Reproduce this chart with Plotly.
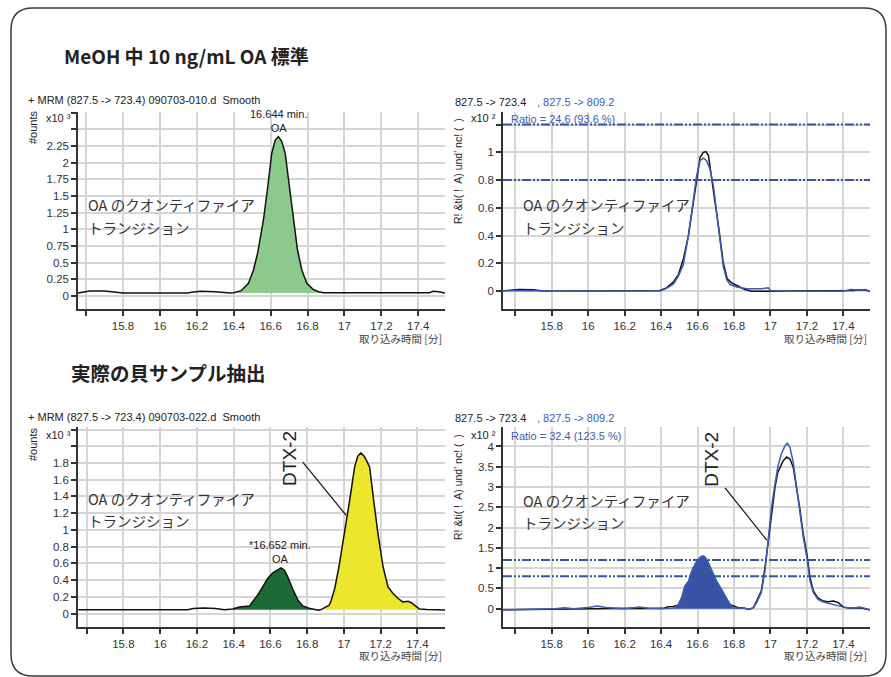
import plotly.graph_objects as go

W, H = 891, 677

# ---------------- data ----------------
# Standard (MeOH 10 ng/mL OA): MRM 827.5 -> 723.4, counts x10^3
std_time = [15.555, 15.58, 15.62, 15.70, 15.75, 15.80, 15.90, 16.00, 16.10, 16.15,
            16.18, 16.22, 16.30, 16.34, 16.38, 16.40, 16.44, 16.48, 16.507, 16.53,
            16.561, 16.585, 16.606, 16.625, 16.642, 16.66, 16.679, 16.70, 16.724, 16.745,
            16.769, 16.796, 16.83, 16.86, 16.886, 16.95, 17.10, 17.30, 17.46, 17.48,
            17.51, 17.545]
std_counts = [0.045, 0.06, 0.075, 0.075, 0.06, 0.045, 0.045, 0.045, 0.045, 0.045,
              0.06, 0.07, 0.065, 0.05, 0.045, 0.05, 0.08, 0.19, 0.39, 0.65,
              1.14, 1.65, 2.14, 2.34, 2.39, 2.32, 2.14, 1.68, 1.14, 0.70,
              0.39, 0.19, 0.10, 0.065, 0.05, 0.05, 0.05, 0.05, 0.05, 0.07,
              0.065, 0.045]
std_oa_window = (16.40, 16.886)
std_fill_base = 0.045

# Standard overlay: quantifier (723.4, black) and qualifier (809.2, blue), x10^2
std_q_time = [15.535, 15.58, 15.62, 15.70, 15.74, 15.80, 16.00, 16.18, 16.22, 16.35,
              16.394, 16.43, 16.467, 16.495, 16.522, 16.55, 16.577, 16.595, 16.614, 16.632,
              16.646, 16.66, 16.677, 16.696, 16.72, 16.741, 16.763, 16.787, 16.824, 16.86,
              16.897, 17.00, 17.20, 17.40, 17.454, 17.49, 17.518, 17.546]
std_q_val = [0.003, 0.008, 0.012, 0.01, 0.003, 0.0, 0.0, 0.0, 0.005, 0.004,
             0.005, 0.024, 0.065, 0.12, 0.23, 0.40, 0.64, 0.82, 0.964, 1.0,
             1.005, 0.976, 0.83, 0.64, 0.42, 0.205, 0.089, 0.06, 0.036, 0.012,
             0.0, 0.0, 0.0, 0.0, 0.005, 0.01, 0.008, 0.0]
std_ql_time = [15.535, 15.60, 15.70, 15.80, 16.00, 16.20, 16.30, 16.40, 16.43, 16.467,
               16.495, 16.522, 16.55, 16.577, 16.595, 16.614, 16.632, 16.65, 16.668, 16.687,
               16.705, 16.723, 16.741, 16.76, 16.778, 16.815, 16.87, 16.95, 16.975, 16.988,
               17.00, 17.10, 17.30, 17.40, 17.44, 17.48, 17.52, 17.546]
std_ql_val = [0.003, 0.005, 0.003, 0.0, 0.0, 0.002, 0.003, 0.004, 0.02, 0.05,
              0.108, 0.19, 0.40, 0.66, 0.83, 0.94, 0.957, 0.94, 0.88, 0.76,
              0.566, 0.373, 0.18, 0.084, 0.048, 0.03, 0.017, 0.017, 0.02, 0.024,
              0.005, 0.0, 0.0, 0.0, 0.012, 0.008, 0.012, 0.0]
std_ratio_limits = [0.8, 1.2]

# Shellfish extract: MRM 827.5 -> 723.4, counts x10^3
smp_time = [15.555, 15.80, 16.00, 16.15, 16.18, 16.24, 16.30, 16.35, 16.395, 16.43,
            16.485, 16.504, 16.53, 16.558, 16.585, 16.613, 16.64, 16.658, 16.676, 16.695,
            16.72, 16.75, 16.776, 16.81, 16.86, 16.876, 16.895, 16.92, 16.931, 16.95,
            16.973, 17.004, 17.031, 17.058, 17.075, 17.092, 17.11, 17.125, 17.14, 17.162,
            17.185, 17.213, 17.24, 17.267, 17.295, 17.32, 17.35, 17.367, 17.395, 17.41,
            17.45, 17.52, 17.55]
smp_counts = [0.045, 0.045, 0.045, 0.045, 0.06, 0.068, 0.06, 0.045, 0.056, 0.08,
              0.09, 0.14, 0.22, 0.32, 0.42, 0.486, 0.518, 0.546, 0.518, 0.438,
              0.30, 0.16, 0.092, 0.064, 0.04, 0.048, 0.072, 0.10, 0.16, 0.30,
              0.56, 0.96, 1.35, 1.75, 1.88, 1.92, 1.88, 1.82, 1.75, 1.35,
              0.96, 0.56, 0.32, 0.24, 0.18, 0.14, 0.147, 0.13, 0.08, 0.056,
              0.05, 0.048, 0.042]
smp_oa_window = (16.395, 16.876)
smp_dtx_window = (16.895, 17.41)
smp_fill_base = 0.045

# Shellfish extract overlay: quantifier (black) and qualifier (blue), x10^2
smp_q_time = [15.533, 15.60, 15.70, 15.80, 15.90, 16.00, 16.20, 16.25, 16.30, 16.358,
              16.412, 16.44, 16.467, 16.495, 16.53, 16.57, 16.60, 16.635, 16.67, 16.70,
              16.74, 16.78, 16.82, 16.86, 16.88, 16.906, 16.924, 16.95, 16.97, 16.988,
              17.006, 17.025, 17.04, 17.07, 17.089, 17.107, 17.125, 17.14, 17.16, 17.18,
              17.20, 17.217, 17.235, 17.26, 17.29, 17.317, 17.345, 17.372, 17.40, 17.436,
              17.49, 17.53, 17.546]
smp_q_val = [-0.025, -0.02, -0.02, -0.01, 0.0, 0.0, 0.01, 0.01, 0.005, 0.0,
             0.01, 0.05, 0.058, 0.09, 0.45, 0.85, 1.05, 1.08, 0.95, 0.65,
             0.35, 0.10, 0.03, 0.01, -0.02, 0.025, 0.19, 0.44, 1.01, 1.67,
             2.42, 3.00, 3.36, 3.65, 3.74, 3.69, 3.49, 3.08, 2.50, 1.84,
             1.34, 0.77, 0.44, 0.27, 0.19, 0.17, 0.19, 0.15, 0.04, 0.01,
             0.025, -0.01, -0.03]
smp_ql_time = [15.533, 15.70, 15.82, 15.87, 15.92, 16.00, 16.05, 16.10, 16.20, 16.28,
               16.33, 16.40, 16.467, 16.495, 16.513, 16.53, 16.55, 16.568, 16.586, 16.604,
               16.622, 16.635, 16.65, 16.668, 16.687, 16.705, 16.732, 16.76, 16.778, 16.796,
               16.83, 16.86, 16.88, 16.906, 16.924, 16.95, 16.97, 16.988, 17.006, 17.025,
               17.04, 17.06, 17.08, 17.093, 17.107, 17.125, 17.14, 17.16, 17.18, 17.20,
               17.217, 17.235, 17.26, 17.29, 17.33, 17.37, 17.40, 17.45, 17.49, 17.515,
               17.546]
smp_ql_val = [-0.025, -0.02, 0.0, 0.025, 0.0, 0.03, 0.066, 0.03, 0.0, 0.04,
              0.01, 0.0, 0.02, 0.09, 0.27, 0.56, 0.68, 0.93, 1.10, 1.22,
              1.30, 1.30, 1.22, 1.055, 0.85, 0.68, 0.48, 0.27, 0.107, 0.025,
              0.01, 0.01, -0.02, 0.02, 0.15, 0.40, 0.93, 1.67, 2.50, 3.08,
              3.49, 3.82, 4.02, 4.08, 3.98, 3.61, 3.08, 2.42, 1.76, 1.26,
              0.68, 0.40, 0.23, 0.165, 0.12, 0.09, 0.04, 0.01, 0.04, 0.01,
              -0.03]
smp_ovl_oa_window = (16.467, 16.86)
smp_ovl_fill_base = 0.0
smp_ratio_limits = [0.8, 1.2]

# labelled ticks, plus unlabelled tick marks (drawn as minor ticks)
x_tick_vals = [15.8, 16.0, 16.2, 16.4, 16.6, 16.8, 17.0, 17.2, 17.4]
x_tick_text = ["15.8", "16", "16.2", "16.4", "16.6", "16.8", "17", "17.2", "17.4"]
x_extra_ticks = [15.6]
std_y_vals = [0, 0.25, 0.5, 0.75, 1, 1.25, 1.5, 1.75, 2, 2.25]
std_y_text = ["0", "0.25", "0.5", "0.75", "1", "1.25", "1.5", "1.75", "2", "2.25"]
std_y_extra = [2.5, 2.75]
std_ovl_y_vals = [0, 0.2, 0.4, 0.6, 0.8, 1.0]
std_ovl_y_text = ["0", "0.2", "0.4", "0.6", "0.8", "1"]
std_ovl_y_extra = [1.2]
smp_y_vals = [0, 0.2, 0.4, 0.6, 0.8, 1.0, 1.2, 1.4, 1.6, 1.8]
smp_y_text = ["0", "0.2", "0.4", "0.6", "0.8", "1", "1.2", "1.4", "1.6", "1.8"]
smp_y_extra = [2.0, 2.2]
smp_ovl_y_vals = [0, 0.5, 1, 1.5, 2, 2.5, 3, 3.5, 4]
smp_ovl_y_text = ["0", "0.5", "1", "1.5", "2", "2.5", "3", "3.5", "4"]
smp_ovl_y_extra = []

# ---------------- styles ----------------
FONT = "Liberation Sans, Arial, sans-serif"
JP = "Noto Sans CJK JP, sans-serif"
AX = "#333333"
GRID = "#d5d5d5"
BLACK = "#111111"
BLUE = "#3c5cb6"
BLUE_FILL = "#3753a4"
GREEN_LIGHT = "#8cca8c"
GREEN_DARK = "#1c6a35"
YELLOW = "#ece62c"


def px(x):
    return x / W


def py(y):
    return 1 - y / H


def peak_polygon(t, v, window, base):
    seg = [(a, b) for a, b in zip(t, v) if window[0] <= a <= window[1]]
    xs = [a for a, _ in seg]
    ys = [b for _, b in seg]
    return xs + [xs[-1], xs[0], xs[0]], ys + [base, base, ys[0]]


fig = go.Figure()


def line(t, v, color, ax):
    fig.add_trace(go.Scatter(x=t, y=v, mode="lines", line=dict(color=color, width=1.5),
                             xaxis="x" + ax, yaxis="y" + ax, hoverinfo="skip"))


def fill(t, v, window, base, color, ax):
    xs, ys = peak_polygon(t, v, window, base)
    fig.add_trace(go.Scatter(x=xs, y=ys, mode="lines", fill="toself", fillcolor=color,
                             line=dict(width=0, color=color),
                             xaxis="x" + ax, yaxis="y" + ax, hoverinfo="skip"))


# panel 1: standard, quantifier
fill(std_time, std_counts, std_oa_window, std_fill_base, GREEN_LIGHT, "")
line(std_time, std_counts, BLACK, "")
# panel 2: standard, overlay
line(std_q_time, std_q_val, BLACK, "2")
line(std_ql_time, std_ql_val, BLUE, "2")
# panel 3: sample, quantifier
fill(smp_time, smp_counts, smp_oa_window, smp_fill_base, GREEN_DARK, "3")
fill(smp_time, smp_counts, smp_dtx_window, smp_fill_base, YELLOW, "3")
line(smp_time, smp_counts, BLACK, "3")
# panel 4: sample, overlay
line(smp_q_time, smp_q_val, BLACK, "4")
fill(smp_ql_time, smp_ql_val, smp_ovl_oa_window, smp_ovl_fill_base, BLUE_FILL, "4")
line(smp_ql_time, smp_ql_val, BLUE, "4")


def axis(dom, rng, anchor, vals, text, extra):
    return dict(domain=dom, range=rng, anchor=anchor, tickmode="array", tickvals=vals, ticktext=text,
                showgrid=True, gridcolor=GRID, gridwidth=1.5, showline=True, linecolor=AX,
                linewidth=1.5, ticks="outside", ticklen=5, tickwidth=1.5, tickcolor=AX,
                minor=dict(tickmode="array", tickvals=extra, ticks="outside", ticklen=5,
                           tickwidth=1.5, tickcolor=AX, showgrid=True, gridcolor=GRID, gridwidth=1.5),
                zeroline=False, tickfont=dict(family=FONT, size=11.5, color="#333"), fixedrange=True)


L_DOM = [px(78), px(445)]
R_DOM = [px(503), px(870)]
T_DOM = [py(309), py(112)]
B_DOM = [py(627), py(427)]

fig.update_layout(
    width=W, height=H, margin=dict(l=0, r=0, t=0, b=0),
    paper_bgcolor="white", plot_bgcolor="white", showlegend=False,
    font=dict(family=FONT, color="#333"),
    xaxis=axis(L_DOM, [15.556, 17.545], "y", x_tick_vals, x_tick_text, x_extra_ticks),
    yaxis=axis(T_DOM, [-0.195, 2.76], "x", std_y_vals, std_y_text, std_y_extra),
    xaxis2=axis(R_DOM, [15.533, 17.546], "y2", x_tick_vals, x_tick_text, x_extra_ticks),
    yaxis2=axis(T_DOM, [-0.128, 1.29], "x2", std_ovl_y_vals, std_ovl_y_text, std_ovl_y_extra),
    xaxis3=axis(L_DOM, [15.553, 17.55], "y3", x_tick_vals, x_tick_text, x_extra_ticks),
    yaxis3=axis(B_DOM, [-0.16, 2.23], "x3", smp_y_vals, smp_y_text, smp_y_extra),
    xaxis4=axis(R_DOM, [15.533, 17.546], "y4", x_tick_vals, x_tick_text, x_extra_ticks),
    yaxis4=axis(B_DOM, [-0.45, 4.48], "x4", smp_ovl_y_vals, smp_ovl_y_text, smp_ovl_y_extra),
)

# ratio limit lines
for ax, lims in (("2", std_ratio_limits), ("4", smp_ratio_limits)):
    for lv in lims:
        fig.add_shape(type="line", xref="x%s domain" % ax, yref="y" + ax, x0=0, x1=1, y0=lv, y1=lv,
                      line=dict(color=BLUE_FILL, width=2, dash="9px,2px,2px,2px,2px,2px"))

# rounded frame
x0, x1, y0, y1 = px(11), px(886), py(676), py(8)
rx, ry = 22 / W, 22 / H
frame = (f"M {x0 + rx},{y1} L {x1 - rx},{y1} Q {x1},{y1} {x1},{y1 - ry} "
         f"L {x1},{y0 + ry} Q {x1},{y0} {x1 - rx},{y0} L {x0 + rx},{y0} "
         f"Q {x0},{y0} {x0},{y0 + ry} L {x0},{y1 - ry} Q {x0},{y1} {x0 + rx},{y1} Z")
fig.add_shape(type="path", path=frame, xref="paper", yref="paper",
              line=dict(color="#3a3a3a", width=1.5))


def note(x, y, text, size=11, color="#333", xanchor="left", yanchor="middle", family=FONT,
         angle=0, xref="paper", yref="paper", **kw):
    fig.add_annotation(x=x, y=y, text=text, xref=xref, yref=yref, showarrow=False,
                       xanchor=xanchor, yanchor=yanchor, textangle=angle,
                       font=dict(family=family, size=size, color=color), **kw)


# section headings
note(px(62), py(55), "<b>MeOH 中 10 ng/mL OA 標準</b>", size=19, color="#222", family=JP)
note(px(69), py(372), "<b>実際の貝サンプル抽出</b>", size=19.5, color="#222", family=JP)

# panel headers
note(px(26), py(100), "+ MRM (827.5 -&gt; 723.4) 090703-010.d  Smooth", size=11, color="#222")
note(px(26), py(417), "+ MRM (827.5 -&gt; 723.4) 090703-022.d  Smooth", size=11, color="#222")
for yy in (102, 418):
    note(px(453), py(yy), "827.5 -&gt; 723.4", size=11, color="#222")
    note(px(535), py(yy), ", 827.5 -&gt; 809.2", size=11, color=BLUE)
note(px(509), py(119), "Ratio = 24.6 (93.6 %)", size=11, color=BLUE)
note(px(509), py(436), "Ratio = 32.4 (123.5 %)", size=11, color=BLUE)

# scale labels and axis titles
for yy in (118, 435):
    note(px(44), py(yy), "x10 ³", size=11, color="#222")
    note(px(469), py(yy), "x10 ²", size=11, color="#222")
note(px(33), py(127), "#ounts", size=11, color="#222", xanchor="center", angle=-90)
note(px(33), py(444), "#ounts", size=11, color="#222", xanchor="center", angle=-90)
note(px(458), py(171), "R! &amp;ti( !  A) und' nc! (  )", size=10.5, color="#222",
     xanchor="center", angle=-90)
note(px(458), py(487), "R! &amp;ti( !  A) und' nc! (  )", size=10.5, color="#222",
     xanchor="center", angle=-90)
for xx, yy in ((444, 338), (869, 338), (444, 655), (869, 655)):
    note(px(xx), py(yy), "取り込み時間 [分]", size=10.5, color="#444", xanchor="right", family=JP)

# quantifier transition labels
for xx, yy in ((86, 205), (521, 205), (86, 498), (521, 500)):
    note(px(xx), py(yy), "OA のクオンティファイア", size=14.5, color="#333", family=JP)
    note(px(xx), py(yy + 22), "トランジション", size=14.5, color="#333", family=JP)

# peak labels
note(16.644, 2.39, "16.644 min.<br>OA", size=11, color="#222", xanchor="center",
     yanchor="bottom", xref="x", yref="y", yshift=1)
note(16.652, 0.546, "*16.652 min.<br>OA", size=11, color="#222", xanchor="center",
     yanchor="bottom", xref="x3", yref="y3", yshift=1)

# DTX-2 labels with leader lines
dtx_label_pos = {"3": (16.707, 1.85), "4": (16.672, 3.69)}
dtx_leader = {"3": ((16.776, 1.81), (17.012, 1.175)), "4": ((16.751, 2.98), (16.98, 1.69))}
for ax in ("3", "4"):
    lx, ly = dtx_label_pos[ax]
    note(lx, ly, "DTX-2", size=19, color="#222", xanchor="center", angle=-90,
         xref="x" + ax, yref="y" + ax, family=FONT)
    (ax0, ay0), (ax1, ay1) = dtx_leader[ax]
    fig.add_shape(type="line", xref="x" + ax, yref="y" + ax, x0=ax0, y0=ay0, x1=ax1, y1=ay1,
                  line=dict(color="#111", width=1.2))

fig.write_html("out.html")
